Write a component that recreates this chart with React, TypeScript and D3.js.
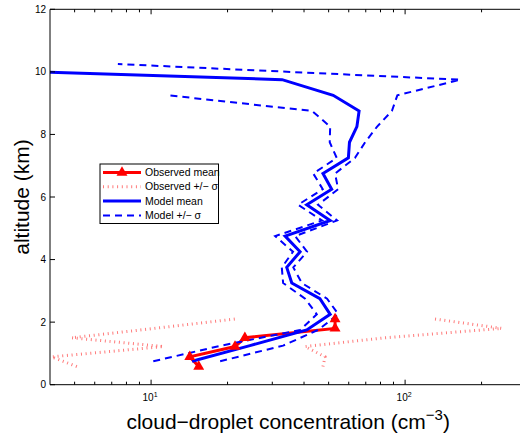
import * as d3 from "d3"

// model profile, altitude in km and concentration in cm^-3
const modelAlt = [0.75, 1.25, 1.75, 2.25, 2.75, 3.25, 3.75, 4.25, 4.75, 5.25, 5.75, 6.25, 6.75, 7.25, 7.75, 8.25, 8.75, 9.25, 9.75, 10.25]
const modelMean = [14.5, 24.5, 41.0, 50.7, 46.2, 35.8, 34.2, 38.6, 33.7, 50.7, 41.0, 51.4, 47.5, 59.8, 60.4, 64.6, 65.9, 52.1, 32.8, 0.4]
const modelLower = [10.2, 18.9, 38.6, 44.9, 40.4, 33.1, 32.7, 36.2, 30.8, 47.1, 37.9, 47.4, 43.5, 53.8, 50.5, 50.7, 43.0, 11.7, null, null]
const modelUpper = [18.7, 33.1, 45.4, 54.6, 49.3, 39.2, 36.3, 41.1, 36.9, 54.0, 45.4, 54.5, 53.0, 63.5, 69.6, 77.6, 88.7, 93.2, 165, 7.4]

// observations
const obsAlt = [0.58, 0.89, 1.22, 1.5, 1.8, 2.1]
const obsMean = [15.4, 14.2, 21.4, 23.4, 53.0, 53.0]
const obsLower = [5.1, 4.06, 11.2, 4.87, 10.3, 21.4]
const obsUpper = [47.5, 48.4, 40.4, 83.4, 240, 131]

const yTicks = [0, 2, 4, 6, 8, 10, 12]
const xMajor = [10, 100]
const xMajorExp = ["1", "2"]
const xMinor = [5, 6, 7, 8, 9, 20, 30, 40, 50, 60, 70, 80, 90, 200, 300]

const legendItems = ["Observed mean", "Observed +/\u2212 \u03c3", "Model mean", "Model +/\u2212 \u03c3"]

const W = 520
const H = 439
const font = "'Liberation Sans', Arial, Helvetica, sans-serif"

const x = d3.scaleLog().domain([4, 300]).range([50, 526.3])
const y = d3.scaleLinear().domain([0, 12]).range([384.7, 9.3])

const pairs = (vals, alts) => vals.map((v, i) => [v, alts[i]])

const line = d3
  .line()
  .defined((d) => d[0] != null && d[0] > 0)
  .x((d) => x(d[0]))
  .y((d) => y(d[1]))

const tri = d3.symbol().type(d3.symbolTriangle).size(52)

const App = () => {
  const [x0, x1] = x.range()
  const [y0, y1] = y.range()

  const obsStyle = { stroke: "#ff7a7a", strokeWidth: 3, strokeDasharray: "1 3.7", fill: "none" }
  const dashStyle = { stroke: "#0000ff", strokeWidth: 2, strokeDasharray: "7 5", fill: "none" }

  return (
    <svg width={W} height={H} style={{ position: "absolute", left: 0, top: 0, background: "#fff" }} fontFamily={font}>
      <defs>
        <clipPath id="plot">
          <rect x={x0} y={y1} width={x1 - x0} height={y0 - y1} />
        </clipPath>
      </defs>

      <g clipPath="url(#plot)">
        <path d={line(pairs(obsLower, obsAlt))} {...obsStyle} />
        <path d={line(pairs(obsUpper, obsAlt))} {...obsStyle} />
        <path d={line(pairs(obsMean, obsAlt))} stroke="#ff0000" strokeWidth={3} fill="none" />
        <path d={line(pairs(modelMean, modelAlt))} stroke="#0000ff" strokeWidth={3} fill="none" />
        <path d={line(pairs(modelLower, modelAlt))} {...dashStyle} />
        <path d={line(pairs(modelUpper, modelAlt))} {...dashStyle} />
        {obsMean.map((v, i) => (
          <path key={i} d={tri()} transform={`translate(${x(v)},${y(obsAlt[i])})`} fill="#ff0000" />
        ))}
      </g>

      {/* axes */}
      <g stroke="#000" strokeWidth={1} fill="none">
        <line x1={x0} x2={W} y1={y0} y2={y0} />
        <line x1={x0} x2={W} y1={y1} y2={y1} />
        <line x1={x0} x2={x0} y1={y0} y2={y1} />
        {yTicks.map((t) => (
          <line key={t} x1={x0} x2={x0 + 5} y1={y(t)} y2={y(t)} />
        ))}
        {xMajor.map((t) => (
          <g key={t}>
            <line x1={x(t)} x2={x(t)} y1={y0} y2={y0 - 5} />
            <line x1={x(t)} x2={x(t)} y1={y1} y2={y1 + 5} />
          </g>
        ))}
        {xMinor.map((t) => (
          <g key={t}>
            <line x1={x(t)} x2={x(t)} y1={y0} y2={y0 - 3} />
            <line x1={x(t)} x2={x(t)} y1={y1} y2={y1 + 3} />
          </g>
        ))}
      </g>

      <g fontSize={10} fill="#000">
        {yTicks.map((t) => (
          <text key={t} x={x0 - 4} y={y(t)} dy="0.35em" textAnchor="end">
            {t}
          </text>
        ))}
        {xMajor.map((t, i) => (
          <text key={t} x={x(t) - 1} y={y0 + 16} textAnchor="middle">
            10
            <tspan dy={-4} fontSize={7}>
              {xMajorExp[i]}
            </tspan>
          </text>
        ))}
      </g>

      <text x={(x0 + x1) / 2} y={429} textAnchor="middle" fontSize={21}>
        cloud{"\u2212"}droplet concentration (cm
        <tspan dy={-9} fontSize={15}>
          {"\u2212"}3
        </tspan>
        <tspan dy={9}>)</tspan>
      </text>
      <text transform={`translate(29,${(y0 + y1) / 2}) rotate(-90)`} textAnchor="middle" fontSize={21}>
        altitude (km)
      </text>

      {/* legend */}
      <g>
        <rect x={100} y={164} width={118.5} height={59.5} fill="#fff" stroke="#000" strokeWidth={1} />
        {legendItems.map((label, i) => {
          const ly = 172.5 + i * 14.3
          return (
            <g key={label}>
              {i === 0 && (
                <>
                  <line x1={103} x2={141} y1={ly} y2={ly} stroke="#ff0000" strokeWidth={3} />
                  <path d={tri()} transform={`translate(122,${ly})`} fill="#ff0000" />
                </>
              )}
              {i === 1 && <line x1={103} x2={141} y1={ly} y2={ly} {...obsStyle} />}
              {i === 2 && <line x1={103} x2={141} y1={ly} y2={ly} stroke="#0000ff" strokeWidth={3} />}
              {i === 3 && <line x1={103} x2={141} y1={ly} y2={ly} {...dashStyle} />}
              <text x={145} y={ly} dy="0.35em" fontSize={10.5} fill="#000">
                {label}
              </text>
            </g>
          )
        })}
      </g>
    </svg>
  )
}

export default App
